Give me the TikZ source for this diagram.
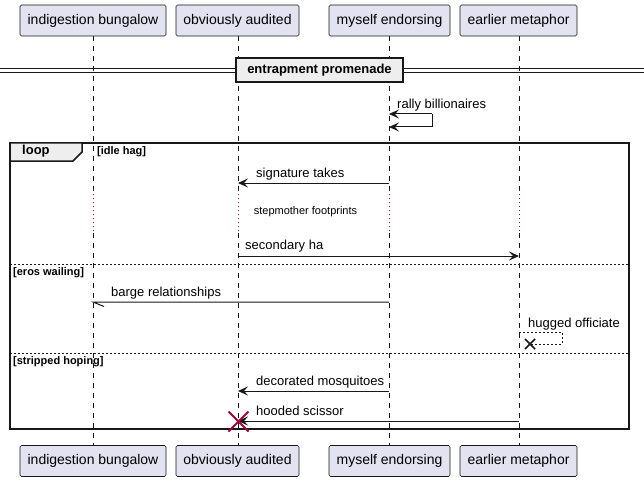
\documentclass[tikz,border=0pt]{standalone}
\usepackage{fontspec}
\setmainfont{Liberation Sans}
\usetikzlibrary{arrows.meta,calc}
\definecolor{partfill}{HTML}{E2E2F0}
\definecolor{ink}{HTML}{181818}
\definecolor{destroyred}{HTML}{A80036}
\definecolor{divfill}{HTML}{EEEEEE}
\begin{document}
\begin{tikzpicture}[x=1pt,y=-1pt,
 part/.style={draw=ink, line width=0.6pt, fill=partfill, minimum height=31pt, inner sep=0pt, font=\fontsize{14}{16}\selectfont, rounded corners=1.5pt},
 msg/.style={draw=ink, line width=1pt},
 arr/.style={-{Stealth[length=10pt,width=9pt,inset=4pt]}},
 lbl/.style={anchor=base west, inner sep=0pt, font=\fontsize{13}{15}\selectfont},
 guard/.style={anchor=base west, inner sep=0pt, font=\bfseries\fontsize{11}{13}\selectfont},
 life/.style={draw=ink, line width=0.5pt, dash pattern=on 5pt off 5pt},
 delayline/.style={draw=destroyred, line width=0.7pt, dash pattern=on 1pt off 3pt},
 frameline/.style={draw=ink, line width=1.5pt},
 elseline/.style={draw=ink, line width=0.8pt, dash pattern=on 2pt off 2pt},
 xmark/.style={line width=1.6pt},
]
\useasboundingbox (0,0) rectangle (644,481);
\fill[white] (0,0) rectangle (644,481);

% lifelines
\foreach \n/\x in {a/93,b/238,c/389,d/519}{
  \coordinate (\n top) at (\x,36);
  \coordinate (\n dtop) at (\x,190);
  \coordinate (\n dbot) at (\x,233);
  \coordinate (\n bot) at (\x,446);
  \draw[life] (\n top) -- (\n dtop);
  \draw[delayline] (\n dtop) -- (\n dbot);
  \draw[life] (\n dbot) -- (\n bot);
}

% participants
\foreach \n/\x/\w/\t in {a/93/146/indigestion bungalow, b/237.5/123/obviously audited, c/389.5/121/myself endorsing, d/518.5/117/earlier metaphor}{
  \node[part, minimum width=\w pt] (\n head) at (\x,20.5) {\t};
  \node[part, minimum width=\w pt] (\n foot) at (\x,461) {\t};
}

% divider
\draw[ink, line width=0.8pt] (0,68) -- (644,68) (0,72) -- (644,72);
\node[draw=ink, line width=1.5pt, fill=divfill, minimum width=167pt, minimum height=24pt, inner sep=0pt,
  font=\bfseries\fontsize{13}{15}\selectfont] (div) at (319.5,70) {entrapment promenade};

% self message rally billionaires
\coordinate (s1a) at (389,114);
\coordinate (s1b) at (432,114);
\coordinate (s1c) at (432,127);
\coordinate (s1d) at (389,127);
\draw[msg, arr] (s1b) -- (s1a);
\draw[msg] (s1b) -- (s1c);
\draw[msg, arr] (s1c) -- (s1d);
\node[lbl] (l1) at (397,108.5) {rally billionaires};

% loop frame
\draw[frameline] (10,143) rectangle (629,429);
\draw[frameline, fill=divfill] (10,143) -- (82,143) -- (82,152) -- (73,161) -- (10,161) -- cycle;
\node[anchor=base west, inner sep=0pt, font=\bfseries\fontsize{13}{15}\selectfont] (looplbl) at (22,154) {loop};
\node[guard] (g1) at (97,154) {[idle hag]};

% signature takes
\coordinate (m2s) at (389,183);
\coordinate (m2t) at (238,183);
\draw[msg, arr] (m2s) -- (m2t);
\node[lbl] (l2) at (256,177.5) {signature takes};

% delay
\node[inner sep=0pt, font=\fontsize{11}{13}\selectfont] (delay) at (305.5,212) {stepmother footprints};

% secondary ha
\coordinate (m3s) at (238,256);
\coordinate (m3t) at (519,256);
\draw[msg, arr] (m3s) -- (m3t);
\node[lbl] (l3) at (245,249.5) {secondary ha};

% else 1
\coordinate (e1a) at (10,264);
\coordinate (e1b) at (629,264);
\draw[elseline] (e1a) -- (e1b);
\node[guard] (g2) at (13,275.5) {[eros wailing]};

% barge relationships (half arrow)
\coordinate (m4s) at (389,302);
\coordinate (m4t) at (93,302);
\coordinate (m4h) at (104,306.5);
\draw[msg] (m4s) -- (m4t) -- (m4h);
\node[lbl] (l4) at (111,296.5) {barge relationships};

% hugged officiate (self, dashed, lost)
\coordinate (m5a) at (519,332);
\coordinate (m5b) at (562,332);
\coordinate (m5c) at (562,344);
\coordinate (m5x) at (530,344);
\draw[ink, line width=0.8pt, dash pattern=on 2pt off 2pt] (m5a) -- (m5b) -- (m5c) -- (m5x);
\draw[ink, xmark] ($(m5x)+(-5,-5)$) -- ($(m5x)+(5,5)$) ($(m5x)+(-5,5)$) -- ($(m5x)+(5,-5)$);
\node[lbl] (l5) at (528,327) {hugged officiate};

% else 2
\coordinate (e2a) at (10,353);
\coordinate (e2b) at (629,353);
\draw[elseline] (e2a) -- (e2b);
\node[guard] (g3) at (13,364.5) {[stripped hoping]};

% decorated mosquitoes
\coordinate (m6s) at (389,391);
\coordinate (m6t) at (238,391);
\draw[msg, arr] (m6s) -- (m6t);
\node[lbl] (l6) at (256,385.5) {decorated mosquitoes};

% hooded scissor
\coordinate (m7s) at (519,421);
\coordinate (m7t) at (238,421);
\draw[msg, arr] (m7s) -- (m7t);
\node[lbl] (l7) at (256,415.5) {hooded scissor};
\draw[destroyred, line width=2pt] ($(m7t)+(-9.5,-9.5)$) -- ($(m7t)+(10.5,10.5)$) ($(m7t)+(-9.5,10.5)$) -- ($(m7t)+(10.5,-9.5)$);
\end{tikzpicture}
\end{document}
